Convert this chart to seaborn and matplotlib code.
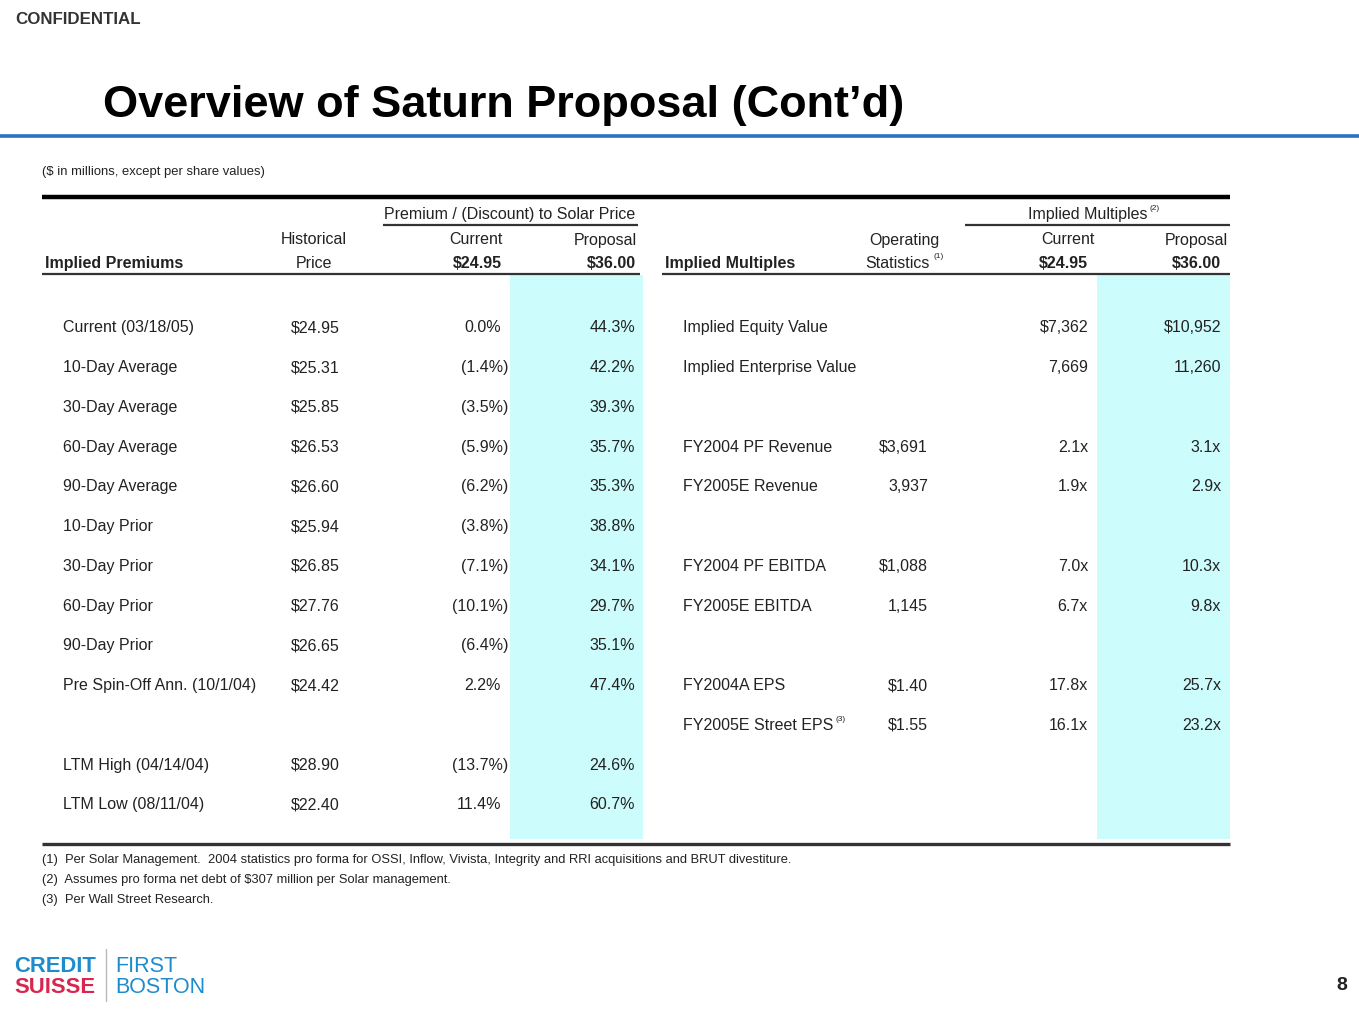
import matplotlib
matplotlib.use("Agg")
import matplotlib.pyplot as plt
import seaborn as sns

sns.set_theme(style="white")
plt.rcParams['font.family'] = ['Liberation Sans', 'DejaVu Sans']

# ---------------- data ----------------
premium_labels = ["Current (03/18/05)", "10-Day Average", "30-Day Average", "60-Day Average",
                  "90-Day Average", "10-Day Prior", "30-Day Prior", "60-Day Prior",
                  "90-Day Prior", "Pre Spin-Off Ann. (10/1/04)", "", "LTM High (04/14/04)",
                  "LTM Low (08/11/04)"]
hist_price = [24.95, 25.31, 25.85, 26.53, 26.60, 25.94, 26.85, 27.76, 26.65, 24.42, None, 28.90, 22.40]
prem_current = [0.0, -1.4, -3.5, -5.9, -6.2, -3.8, -7.1, -10.1, -6.4, 2.2, None, -13.7, 11.4]
prem_proposal = [44.3, 42.2, 39.3, 35.7, 35.3, 38.8, 34.1, 29.7, 35.1, 47.4, None, 24.6, 60.7]

mult_labels = ["Implied Equity Value", "Implied Enterprise Value", "", "FY2004 PF Revenue",
               "FY2005E Revenue", "", "FY2004 PF EBITDA", "FY2005E EBITDA", "",
               "FY2004A EPS", "FY2005E Street EPS"]
op_stats = ["", "", "", "$3,691", "3,937", "", "$1,088", "1,145", "", "$1.40", "$1.55"]
mult_current = ["$7,362", "7,669", "", "2.1x", "1.9x", "", "7.0x", "6.7x", "", "17.8x", "16.1x"]
mult_proposal = ["$10,952", "11,260", "", "3.1x", "2.9x", "", "10.3x", "9.8x", "", "25.7x", "23.2x"]

current_price = "$24.95"
proposal_price = "$36.00"

footnotes = [
    "(1)  Per Solar Management.  2004 statistics pro forma for OSSI, Inflow, Vivista, Integrity and RRI acquisitions and BRUT divestiture.",
    "(2)  Assumes pro forma net debt of $307 million per Solar management.",
    "(3)  Per Wall Street Research.",
]

# ---------------- figure ----------------
W, H = 1359, 1020
fig = plt.figure(figsize=(W / 100, H / 100), dpi=100)
ax = fig.add_axes([0, 0, 1, 1])
ax.set_xlim(0, W)
ax.set_ylim(H, 0)
ax.axis("off")

TXT = "#222222"
FS = 11.5
SUP = 6
CYAN = "#CCFCFC"

# header texts
ax.text(15, 19, "CONFIDENTIAL", fontsize=12.2, fontweight="bold", color="#333333", va="center")
ax.text(103, 106, "Overview of Saturn Proposal (Cont\u2019d)", fontsize=32.5, fontweight="bold",
        color="black", va="center")
ax.plot([0, W], [137, 137], color="#2a72c4", lw=2.6, solid_capstyle="butt")
ax.text(42, 172, "($ in millions, except per share values)", fontsize=9.4, color=TXT, va="center")

# shaded proposal columns
ax.axvspan(510, 643, ymin=1 - 840 / H, ymax=1 - 276 / H, color=CYAN, lw=0, zorder=0)
ax.axvspan(1097, 1230, ymin=1 - 840 / H, ymax=1 - 276 / H, color=CYAN, lw=0, zorder=0)

# rules
ax.plot([42, 1230], [198, 198], color="black", lw=3.2, solid_capstyle="butt")
ax.plot([383, 638], [226, 226], color="#333333", lw=1.6, solid_capstyle="butt")
ax.plot([965, 1230], [226, 226], color="#333333", lw=1.6, solid_capstyle="butt")
ax.plot([42, 640], [275, 275], color="#333333", lw=1.6, solid_capstyle="butt")
ax.plot([662, 1230], [275, 275], color="#333333", lw=1.6, solid_capstyle="butt")
ax.plot([42, 1230], [845, 845], color="#333333", lw=2.4, solid_capstyle="butt")

# left table header
ax.text(510, 214, "Premium / (Discount) to Solar Price", fontsize=FS, color=TXT, ha="center", va="center")
ax.text(314, 240, "Historical", fontsize=FS, color=TXT, ha="center", va="center")
ax.text(314, 264, "Price", fontsize=FS, color=TXT, ha="center", va="center")
ax.text(503, 240, "Current", fontsize=FS, color=TXT, ha="right", va="center")
ax.text(502, 264, current_price, fontsize=FS, fontweight="bold", color=TXT, ha="right", va="center")
ax.text(637, 240, "Proposal", fontsize=FS, color=TXT, ha="right", va="center")
ax.text(636, 264, proposal_price, fontsize=FS, fontweight="bold", color=TXT, ha="right", va="center")
ax.text(45, 264, "Implied Premiums", fontsize=FS, fontweight="bold", color=TXT, va="center")

# right table header
ax.text(665, 264, "Implied Multiples", fontsize=FS, fontweight="bold", color=TXT, va="center")
ax.text(904, 240, "Operating", fontsize=FS, color=TXT, ha="center", va="center")
ax.text(897, 264, "Statistics", fontsize=FS, color=TXT, ha="center", va="center")
ax.text(934, 257, "(1)", fontsize=SUP, color=TXT, ha="left", va="center")
ax.text(1088, 214, "Implied Multiples", fontsize=FS, color=TXT, ha="center", va="center")
ax.text(1149, 208, "(2)", fontsize=SUP, color=TXT, ha="left", va="center")
ax.text(1095, 240, "Current", fontsize=FS, color=TXT, ha="right", va="center")
ax.text(1088, 264, current_price, fontsize=FS, fontweight="bold", color=TXT, ha="right", va="center")
ax.text(1228, 240, "Proposal", fontsize=FS, color=TXT, ha="right", va="center")
ax.text(1221, 264, proposal_price, fontsize=FS, fontweight="bold", color=TXT, ha="right", va="center")

# left table body
row_y0, row_dy = 328, 39.75
for i, lab in enumerate(premium_labels):
    y = row_y0 + i * row_dy
    if not lab:
        continue
    ax.text(63, y, lab, fontsize=FS, color=TXT, va="center")
    ax.text(340, y, f"${hist_price[i]:.2f}", fontsize=FS, color=TXT, ha="right", va="center")
    v = prem_current[i]
    if v < 0:
        ax.text(508, y, f"({abs(v):.1f}%)", fontsize=FS, color=TXT, ha="right", va="center")
    else:
        ax.text(501, y, f"{v:.1f}%", fontsize=FS, color=TXT, ha="right", va="center")
    ax.text(635, y, f"{prem_proposal[i]:.1f}%", fontsize=FS, color=TXT, ha="right", va="center")

# right table body
for i, lab in enumerate(mult_labels):
    y = row_y0 + i * row_dy
    if not lab:
        continue
    ax.text(683, y, lab, fontsize=FS, color=TXT, va="center")
    if lab == "FY2005E Street EPS":
        ax.text(836, y - 6, "(3)", fontsize=SUP, color=TXT, va="center")
    ax.text(928, y, op_stats[i], fontsize=FS, color=TXT, ha="right", va="center")
    ax.text(1088, y, mult_current[i], fontsize=FS, color=TXT, ha="right", va="center")
    ax.text(1221, y, mult_proposal[i], fontsize=FS, color=TXT, ha="right", va="center")

# footnotes
for j, fn in enumerate(footnotes):
    ax.text(42, 860 + j * 20, fn, fontsize=9.3, color=TXT, va="center")

# logo
ax.text(14, 967, "CREDIT", fontsize=15.8, fontweight="bold", color="#1d8ccc", va="center")
ax.text(14, 988, "SUISSE", fontsize=15.8, fontweight="bold", color="#d8264f", va="center")
ax.plot([106, 106], [950, 1002], color="#bbbbbb", lw=1)
ax.text(115, 967, "FIRST", fontsize=15.5, color="#1d8ccc", va="center")
ax.text(115, 988, "BOSTON", fontsize=15.5, color="#1d8ccc", va="center")

# page number
ax.text(1342, 986, "8", fontsize=14, fontweight="bold", color="#222222", ha="center", va="center")

fig.savefig("out.png", dpi=100, facecolor="white")
